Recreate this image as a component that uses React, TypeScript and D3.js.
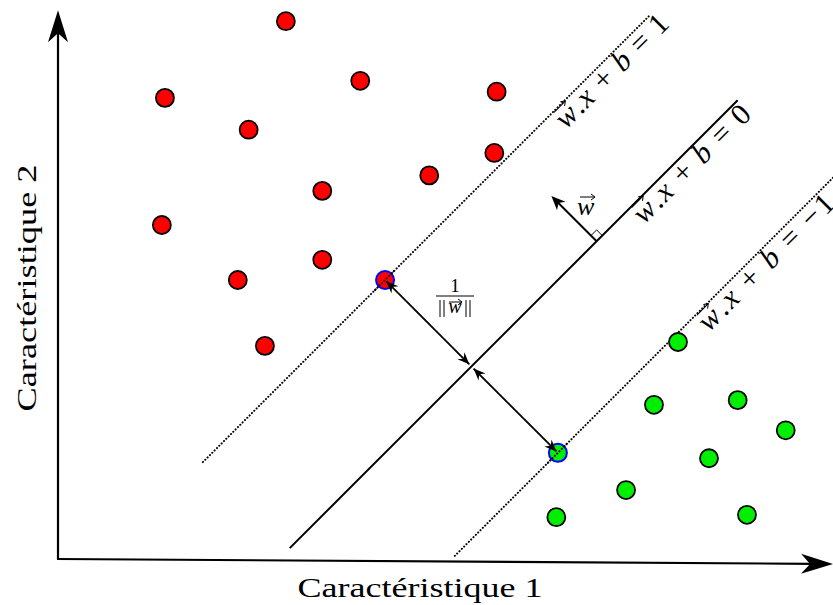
import React from "react";
import * as d3 from "d3";

// ---- data (in feature units) ----
const redPoints: [number, number][] = [
  [2.94, 6.94], [3.9, 6.17], [1.38, 5.95], [5.66, 6.03], [2.46, 5.54],
  [5.63, 5.24], [3.41, 4.75], [4.79, 4.95], [1.34, 4.31], [3.41, 3.86],
  [2.32, 3.6], [2.67, 2.75],
];
const greenPoints: [number, number][] = [
  [8.0, 2.8], [7.69, 1.99], [8.77, 2.05], [9.39, 1.66], [8.4, 1.3],
  [7.33, 0.89], [6.43, 0.54], [8.89, 0.57],
];
const supportRed: [number, number] = [4.22, 3.6];
const supportGreen: [number, number] = [6.45, 1.37];

// hyperplanes y = x - offset
const planeOffsets = [0.62, 2.85, 5.08];
const planeXStart = [1.87, 2.99, 5.12];
const planeXEnd = [7.64, 8.77, 10.0];
const planeValues = ["1", "0", "\u22121"];
const planeLabelX = [6.555, 7.56, 8.4];
const planeLabelLen = [148, 154, 180];

const xAxisLabel = "Caractéristique 1";
const yAxisLabel = "Caractéristique 2";
const xDomain = [0, 10];
const yDomain = [0, 7];
const yAxisTop = 7.08;
const wBaseX = 6.95; // where normal vector starts on decision line

const FONT = "'Liberation Serif', 'DejaVu Serif', serif";

function VecArrow({ x, y, w }: { x: number; y: number; w: number }) {
  return (
    <g stroke="#000" strokeWidth={1} fill="none">
      <line x1={x} y1={y} x2={x + w} y2={y} />
      <path d={`M${x + w - 4},${y - 3} L${x + w},${y} L${x + w - 4},${y + 3}`} />
    </g>
  );
}

export default function App() {
  const x = d3.scaleLinear().domain(xDomain).range([58, 833]);
  const y = d3.scaleLinear().domain(yDomain).range([559, 16.5]);

  const ox = x(0), oy = y(0);

  // foot of perpendicular on decision line
  const c0 = planeOffsets[1];
  const foot = (p: [number, number]): [number, number] => {
    const d = (p[0] - p[1] - c0) / 2;
    return [p[0] - d, p[1] + d];
  };
  const fr = foot(supportRed);
  const fg = foot(supportGreen);
  const shrink = (a: [number, number], b: [number, number], g: number) => {
    const ax = x(a[0]), ay = y(a[1]), bx = x(b[0]), by = y(b[1]);
    const L = Math.hypot(bx - ax, by - ay);
    const ux = (bx - ax) / L, uy = (by - ay) / L;
    return { x1: ax + ux * 2, y1: ay + uy * 2, x2: bx - ux * g, y2: by - uy * g };
  };
  const a1 = shrink(supportRed, fr, 3);
  const a2raw = shrink(fg, supportGreen, 2);
  const a2 = { x1: x(fg[0]) + 3 / Math.SQRT2, y1: y(fg[1]) + 3 / Math.SQRT2, x2: a2raw.x2, y2: a2raw.y2 };

  // normal vector w
  const bx = x(wBaseX), by = y(wBaseX - c0);
  const wl = 64;
  const tipX = bx - wl / Math.SQRT2, tipY = by - wl / Math.SQRT2;
  const s = 8 / Math.SQRT2;
  const sq = `M${bx - s},${by - s} L${bx},${by - 2 * s} L${bx + s},${by - s}`;

  const stealthBig = (tx: number, ty: number, angle: number) => (
    <path
      d="M0,0 L-32,-10 L-23,0 L-32,10 Z"
      transform={`translate(${tx},${ty}) rotate(${angle})`}
      fill="#000"
    />
  );

  const xEndY = y(-0.065);

  return (
    <svg width={833} height={605} style={{ position: "absolute", left: 0, top: 0, background: "#fff" }}>
      <defs>
        <marker id="ah" viewBox="-12 -6 14 12" refX={0} refY={0} markerWidth={14} markerHeight={12}
          markerUnits="userSpaceOnUse" orient="auto-start-reverse">
          <path d="M0,0 L-12,-5 L-8,0 L-12,5 Z" fill="#000" />
        </marker>
      </defs>
      <rect width={833} height={605} fill="#fff" />

      {/* axes */}
      <line x1={ox} y1={oy} x2={ox} y2={y(yAxisTop) + 20} stroke="#000" strokeWidth={2.2} />
      {stealthBig(ox, y(yAxisTop), -90)}
      <line x1={ox - 1} y1={oy} x2={x(xDomain[1]) - 20} y2={xEndY - 0.2} stroke="#000" strokeWidth={2.2} />
      {stealthBig(x(xDomain[1]), xEndY, 0.4)}

      {/* hyperplanes */}
      {planeOffsets.map((c, i) => (
        <line key={i}
          x1={x(planeXStart[i])} y1={y(planeXStart[i] - c)}
          x2={x(planeXEnd[i])} y2={y(planeXEnd[i] - c)}
          stroke="#000"
          strokeWidth={2}
          strokeDasharray={i === 1 ? undefined : "0.1 3.2"}
          strokeLinecap={i === 1 ? "butt" : "round"}
        />
      ))}

      {/* points */}
      {redPoints.map((p, i) => (
        <circle key={"r" + i} cx={x(p[0])} cy={y(p[1])} r={9} fill="#ff0000" stroke="#000" strokeWidth={1.8} />
      ))}
      {greenPoints.map((p, i) => (
        <circle key={"g" + i} cx={x(p[0])} cy={y(p[1])} r={9} fill="#00ee00" stroke="#000" strokeWidth={1.8} />
      ))}
      <circle cx={x(supportRed[0])} cy={y(supportRed[1])} r={9} fill="#ff0000" stroke="#0000ff" strokeWidth={2} />
      <circle cx={x(supportGreen[0])} cy={y(supportGreen[1])} r={9} fill="#00ee00" stroke="#0000ff" strokeWidth={2} />
      {/* dotted lines through support vectors, drawn on top */}
      {[0, 2].map((i) => {
        const c = planeOffsets[i];
        const p = i === 0 ? supportRed : supportGreen;
        return (
          <line key={"ov" + i}
            x1={x(p[0] - 0.13)} y1={y(p[0] - 0.13 - c)} x2={x(p[0] + 0.13)} y2={y(p[0] + 0.13 - c)}
            stroke="#000" strokeWidth={2} strokeDasharray="0.1 3.2" strokeLinecap="round" />
        );
      })}

      {/* margin arrows */}
      <line {...a1} stroke="#000" strokeWidth={1.8} markerStart="url(#ah)" markerEnd="url(#ah)" />
      <line {...a2} stroke="#000" strokeWidth={1.8} markerStart="url(#ah)" markerEnd="url(#ah)" />

      {/* fraction 1/||w|| */}
      <g fontFamily={FONT}>
        <text x={455} y={292} textAnchor="middle" fontSize={19}>1</text>
        <line x1={436} y1={296} x2={474} y2={296} stroke="#000" strokeWidth={1} />
        <line x1={440} y1={300} x2={440} y2={317} stroke="#000" strokeWidth={1} />
        <line x1={444} y1={300} x2={444} y2={317} stroke="#000" strokeWidth={1} />
        <line x1={466} y1={300} x2={466} y2={317} stroke="#000" strokeWidth={1} />
        <line x1={470} y1={300} x2={470} y2={317} stroke="#000" strokeWidth={1} />
        <text x={455} y={313} textAnchor="middle" fontSize={20} fontStyle="italic">w</text>
        <VecArrow x={449} y={302} w={13} />
      </g>

      {/* normal vector */}
      <line x1={bx} y1={by} x2={tipX + 6} y2={tipY + 6} stroke="#000" strokeWidth={2} />
      <path d="M0,0 L-14,-6 L-10,0 L-14,6 Z" fill="#000"
        transform={`translate(${tipX},${tipY}) rotate(-135)`} />
      <path d={sq} fill="none" stroke="#000" strokeWidth={1} />
      <text x={577} y={215} fontFamily={FONT} fontSize={26} fontStyle="italic">w</text>
      <VecArrow x={580} y={197} w={15} />

      {/* hyperplane labels */}
      {planeOffsets.map((c, i) => {
        const lx = x(planeLabelX[i]);
        const ly = y(planeLabelX[i] - c - 0.4);
        return (
          <g key={"l" + i} transform={`translate(${lx},${ly}) rotate(-45)`}>
            <text x={0} y={0} fontFamily={FONT} fontSize={30} textLength={planeLabelLen[i]} lengthAdjust="spacing">
              <tspan fontStyle="italic">w</tspan>
              <tspan>.</tspan>
              <tspan fontStyle="italic">x</tspan>
              <tspan>{" + "}</tspan>
              <tspan fontStyle="italic">b</tspan>
              <tspan>{" = "}</tspan>
              <tspan>{planeValues[i]}</tspan>
            </text>
            <VecArrow x={4} y={-21} w={16} />
          </g>
        );
      })}

      {/* axis labels */}
      <text x={420} y={597} textAnchor="middle" fontFamily={FONT} fontSize={27}
        textLength={245} lengthAdjust="spacingAndGlyphs">{xAxisLabel}</text>
      <text transform="translate(36,288) rotate(-90)" textAnchor="middle" fontFamily={FONT} fontSize={27}
        textLength={247} lengthAdjust="spacingAndGlyphs">{yAxisLabel}</text>
    </svg>
  );
}
